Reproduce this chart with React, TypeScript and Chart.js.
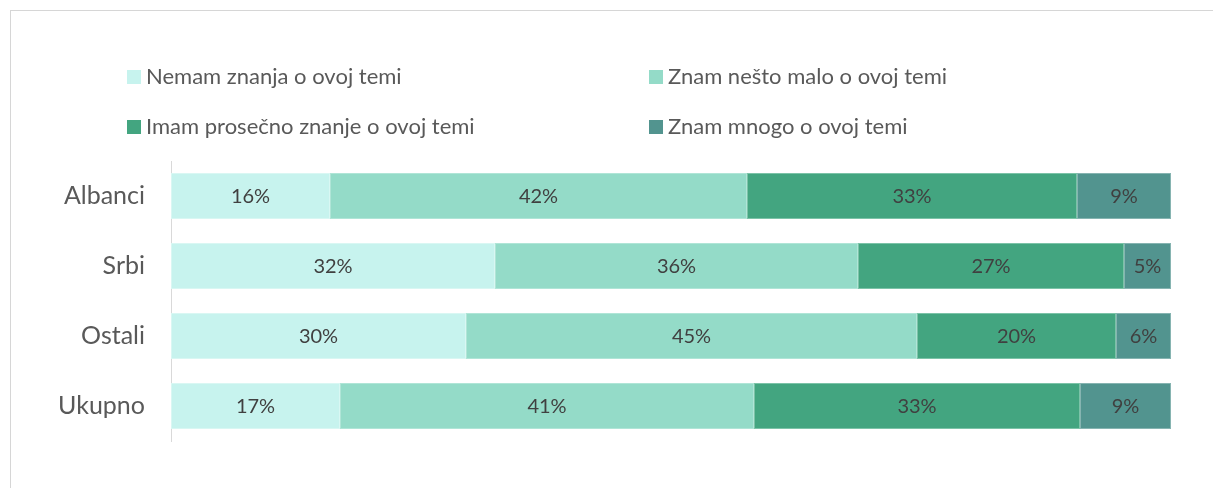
import React, { useEffect, useRef } from "react";
import { Chart, registerables } from "chart.js";

Chart.register(...registerables);

const categories = ["Albanci", "Srbi", "Ostali", "Ukupno"];
const seriesNames = [
  "Nemam znanja o ovoj temi",
  "Znam nešto malo o ovoj temi",
  "Imam prosečno znanje o ovoj temi",
  "Znam mnogo o ovoj temi",
];
const nemam = [15.9, 32.4, 29.5, 16.9];
const malo = [41.7, 36.3, 45.1, 41.4];
const prosecno = [33.0, 26.6, 19.9, 32.6];
const mnogo = [9.4, 4.7, 5.5, 9.1];
const colors = ["#C7F3EE", "#94DBC8", "#43A580", "#52948F"];
const borderColors = ["#D9F7F3", "#B0E5D7", "#7CC3A8", "#86B4B1"];

const FONT = "Lato, 'Open Sans', sans-serif";

const labelPlugin = {
  id: "barLabels",
  afterDatasetsDraw(chart: any) {
    const ctx = chart.ctx;
    ctx.save();
    ctx.font = `20px ${FONT}`;
    ctx.fillStyle = "#404040";
    ctx.textAlign = "center";
    ctx.textBaseline = "middle";
    chart.data.datasets.forEach((ds: any, i: number) => {
      const meta = chart.getDatasetMeta(i);
      meta.data.forEach((bar: any, j: number) => {
        const v = ds.data[j];
        const cx = (bar.x + bar.base) / 2;
        ctx.fillText(Math.round(v) + "%", cx, bar.y + 1);
      });
    });
    ctx.restore();
  },
};

const legendPlugin = {
  id: "gridLegend",
  afterDraw(chart: any) {
    const ctx = chart.ctx;
    const colX = [127, 649];
    const rowY = [77, 127];
    ctx.save();
    ctx.font = `22px ${FONT}`;
    ctx.textAlign = "left";
    ctx.textBaseline = "middle";
    chart.data.datasets.forEach((ds: any, i: number) => {
      const x = colX[i % 2];
      const y = rowY[Math.floor(i / 2)];
      ctx.fillStyle = ds.backgroundColor;
      ctx.fillRect(x, y - 7, 14, 14);
      ctx.fillStyle = "#595959";
      ctx.fillText(ds.label, x + 19, y);
    });
    ctx.restore();
  },
};

export default function App() {
  const ref = useRef<HTMLCanvasElement>(null);
  useEffect(() => {
    document.body.style.margin = "0";
    const values = [nemam, malo, prosecno, mnogo];
    const chart = new Chart(ref.current as HTMLCanvasElement, {
      type: "bar",
      data: {
        labels: categories,
        datasets: seriesNames.map((name, i) => ({
          label: name,
          data: values[i],
          backgroundColor: colors[i],
          borderColor: borderColors[i],
          borderWidth: 1,
          borderSkipped: false,
          barPercentage: 0.66,
          categoryPercentage: 1,
        })),
      },
      options: {
        indexAxis: "y",
        responsive: false,
        animation: false,
        maintainAspectRatio: false,
        layout: { padding: { top: 161, bottom: 47, right: 42, left: 0 } },
        plugins: {
          legend: { display: false },
          tooltip: { enabled: false },
        },
        scales: {
          x: { stacked: true, min: 0, max: 100, display: false },
          y: {
            stacked: true,
            grid: { display: false, drawTicks: false },
            border: { display: true, color: "#D9D9D9", width: 1 },
            ticks: {
              padding: 26,
              color: "#595959",
              font: { size: 25, family: FONT },
            },
            afterFit(scale: any) {
              scale.width = 171;
            },
          },
        },
      },
      plugins: [labelPlugin, legendPlugin],
    });
    return () => chart.destroy();
  }, []);
  return (
    <div style={{ position: "relative", width: 1213, height: 488, overflow: "hidden", background: "#fff" }}>
      <div
        style={{
          position: "absolute",
          left: 10,
          top: 10,
          width: 1240,
          height: 520,
          border: "1px solid #D6D6D6",
          boxSizing: "border-box",
        }}
      />
      <canvas ref={ref} width={1213} height={488} style={{ position: "absolute", left: 0, top: 0 }} />
    </div>
  );
}
